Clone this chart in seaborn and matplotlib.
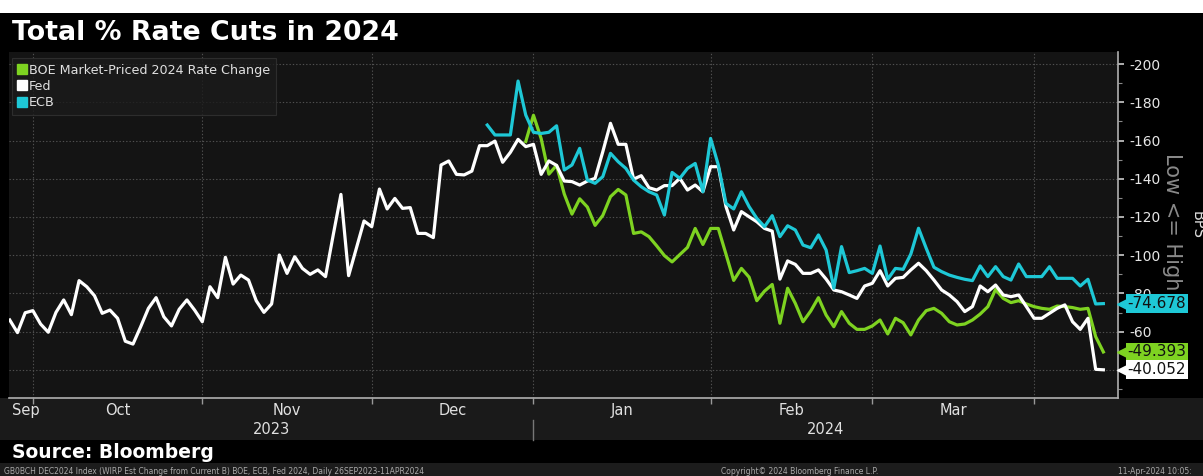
import numpy as np
import pandas as pd
import matplotlib
matplotlib.use("Agg")
import matplotlib.pyplot as plt
import matplotlib.transforms as mtransforms
from matplotlib.lines import Line2D
from matplotlib.patches import Rectangle
from matplotlib.ticker import MultipleLocator
import seaborn as sns

# ---------------- data (bps, daily business days) ----------------
dates = pd.bdate_range("2023-09-26", "2024-04-11")

fed = [-66.1, -59.5, -69.9, -71.0, -64.0, -59.7, -70.1, -76.6, -68.9, -86.7,
       -83.5, -78.8, -69.6, -71.3, -67.0, -55.0, -53.5, -62.6, -72.2, -77.8,
       -67.8, -63.0, -71.7, -76.6, -71.3, -65.2, -83.5, -77.8, -98.9, -84.9,
       -89.6, -87.0, -76.2, -70.1, -74.5, -100.1, -90.5, -99.2, -93.1, -90.0,
       -92.3, -88.8, -110.6, -131.8, -89.3, -103.6, -117.9, -114.9, -134.6, -124.2,
       -129.7, -124.5, -124.9, -111.4, -111.4, -109.2, -147.2, -149.3, -142.3, -142.0,
       -144.0, -157.3, -157.3, -159.7, -148.6, -153.8, -160.6, -156.8, -158.0, -142.3,
       -149.3, -147.0, -138.8, -138.5, -136.7, -138.8, -140.2, -154.1, -169.0, -158.0,
       -158.0, -139.8, -141.6, -135.3, -134.1, -136.4, -136.4, -140.2, -134.1, -136.7,
       -133.2, -146.3, -146.3, -125.4, -113.2, -122.8, -120.1, -117.5, -114.0, -112.6,
       -87.5, -97.0, -95.2, -90.5, -90.5, -92.3, -87.5, -81.8, -80.9, -79.2,
       -77.4, -83.9, -85.3, -91.9, -83.9, -87.9, -88.4, -92.3, -95.8, -91.9,
       -87.0, -81.8, -79.2, -75.7, -70.5, -73.1, -83.9, -80.9, -84.4, -79.2,
       -78.3, -79.2, -73.1, -67.0, -67.0, -69.6, -72.2, -74.0, -65.2, -61.2,
       -67.0, -40.3, -40.052]

ecb_start = "2023-12-21"
ecb = [-168.1, -162.9, -162.9, -162.9, -191.1, -173.3, -164.3, -163.7, -164.3, -167.7,
       -144.6, -147.2, -155.9, -139.3, -137.6, -141.1, -153.3, -148.9, -145.4, -139.3,
       -135.8, -133.2, -131.5, -121.0, -143.3, -140.2, -145.4, -148.0, -133.2, -161.1,
       -147.2, -127.1, -124.2, -133.2, -125.4, -119.3, -114.9, -120.7, -109.7, -115.4,
       -113.2, -105.3, -103.9, -110.6, -102.7, -82.7, -104.5, -90.9, -91.9, -93.1,
       -90.5, -104.8, -87.4, -93.1, -92.6, -100.6, -114.1, -103.6, -93.7, -91.4,
       -89.6, -88.4, -87.4, -86.7, -94.4, -88.8, -94.0, -88.8, -87.0, -95.4,
       -88.8, -88.8, -88.8, -94.0, -87.9, -87.9, -87.9, -83.9, -87.4, -74.5,
       -74.678]

boe_start = "2023-12-28"
boe = [-159.5, -173.2, -161.0, -142.4, -147.0, -132.0, -121.5, -129.5, -125.2, -115.6,
       -120.8, -130.6, -134.4, -131.5, -111.4, -112.2, -109.7, -104.9, -99.8, -96.5,
       -100.3, -104.1, -114.0, -105.6, -114.0, -114.0, -100.5, -86.8, -93.1, -88.5,
       -76.2, -81.2, -84.7, -64.4, -82.7, -74.8, -65.2, -70.8, -77.8, -68.7,
       -62.6, -70.5, -64.4, -61.2, -61.2, -63.0, -66.1, -58.8, -67.0, -64.7,
       -58.3, -66.1, -71.0, -72.2, -69.6, -65.2, -63.5, -64.0, -66.1, -69.2,
       -73.1, -82.1, -77.4, -75.2, -76.2, -74.5, -73.1, -72.2, -71.7, -73.4,
       -73.1, -72.6, -71.7, -72.2, -57.4, -49.393]

series_names = ["BOE Market-Priced 2024 Rate Change", "Fed", "ECB"]
colors = {"BOE Market-Priced 2024 Rate Change": "#7ed321", "Fed": "#ffffff", "ECB": "#1ec8d6"}
last_labels = {"ECB": "-74.678", "BOE Market-Priced 2024 Rate Change": "-49.393", "Fed": "-40.052"}
month_labels = ["Sep", "Oct", "Nov", "Dec", "Jan", "Feb", "Mar"]
year_labels = ["2023", "2024"]
y_ticks = [-200, -180, -160, -140, -120, -100, -80, -60, -40]

# ---------------- build long-form frame ----------------
pos_of = {d: i for i, d in enumerate(dates)}
frames = []
for name, vals, start in [("Fed", fed, dates[0]),
                          ("ECB", ecb, pd.Timestamp(ecb_start)),
                          ("BOE Market-Priced 2024 Rate Change", boe, pd.Timestamp(boe_start))]:
    i0 = pos_of[pd.Timestamp(start)]
    d = dates[i0:i0 + len(vals)]
    frames.append(pd.DataFrame({"date": d, "pos": [pos_of[x] for x in d],
                                "value": vals, "series": name}))
df = pd.concat(frames, ignore_index=True)

# month boundaries: last business day of each month
month_end_pos = []
month_mid_pos = []
periods = pd.Series(dates).dt.to_period("M")
for p in periods.unique():
    idx = np.where(periods == p)[0]
    if idx[-1] < len(dates) - 1:
        month_end_pos.append(idx[-1])
xmax = 143.9
bounds = [0] + month_end_pos
for a, b in zip(bounds[:-1], bounds[1:]):
    month_mid_pos.append((a + b) / 2)
month_mid_pos[0] = 2.1
year_bound = month_end_pos[3]
year_mid_pos = [year_bound / 2, (year_bound + xmax) / 2]

# ---------------- figure ----------------
W, H = 1203, 476
fig = plt.figure(figsize=(W / 100, H / 100), dpi=100, facecolor="black")

def band(y0, y1, color, x0=0, x1=W):
    fig.patches.append(Rectangle((x0 / W, 1 - y1 / H), (x1 - x0) / W, (y1 - y0) / H,
                                 transform=fig.transFigure, facecolor=color,
                                 edgecolor="none", zorder=-10))

band(0, 13, "white")
band(398, 440, "#1a1a1a")
band(440, 463, "black")
band(463, 476, "#1c1c1c")

ax_l, ax_r, ax_t, ax_b = 9, 1118, 52, 398
ax = fig.add_axes([ax_l / W, 1 - ax_b / H, (ax_r - ax_l) / W, (ax_b - ax_t) / H])
ax.set_facecolor("#141414")

sns.lineplot(data=df, x="pos", y="value", hue="series", hue_order=series_names,
             palette=colors, estimator=None, sort=False, linewidth=2.3,
             legend=False, ax=ax)

ax.set_xlim(-0.1, xmax)
ax.set_ylim(-25.3, -206.3)
ax.set_xlabel("")
ax.set_ylabel("")

# y axis on the right (the -40 label sits under the Fed tag in the reference)
ax.yaxis.tick_right()
ax.set_yticks(y_ticks)
ax.set_yticklabels([f"{v}" if v != -40 else "" for v in y_ticks])
ax.yaxis.set_minor_locator(MultipleLocator(10))
ax.tick_params(axis="y", which="major", length=4, width=1.2, color="#cccccc",
               labelcolor="#e6e6e6", labelsize=10, pad=4)
ax.tick_params(axis="y", which="minor", length=3, width=0.8, color="#888888")

ax.set_xticks(month_end_pos)
ax.set_xticklabels([])
ax.tick_params(axis="x", which="major", length=4, width=1, color="#999999")

ax.grid(True, which="major", axis="both", color="#505050",
        linestyle=(0, (1.2, 1.8)), linewidth=0.8)
ax.set_axisbelow(True)

for s in ["left", "top"]:
    ax.spines[s].set_visible(False)
for s in ["right", "bottom"]:
    ax.spines[s].set_color("#b0b0b0")
    ax.spines[s].set_linewidth(1.2)

# month and year labels
trans = mtransforms.blended_transform_factory(ax.transData, ax.transAxes)
for xm, lab in zip(month_mid_pos, month_labels):
    ax.text(xm, -0.035, lab, transform=trans, ha="center", va="center",
            color="#e0e0e0", fontsize=10.5)
for xm, lab in zip(year_mid_pos, year_labels):
    ax.text(xm, -0.092, lab, transform=trans, ha="center", va="center",
            color="#e0e0e0", fontsize=10.5)
ax.add_line(Line2D([year_bound, year_bound], [-0.065, -0.122], transform=trans,
                   color="#777777", linewidth=1, clip_on=False))

# legend
handles = [Line2D([], [], marker="s", linestyle="none", markersize=7,
                  markerfacecolor=colors[n], markeredgecolor=colors[n]) for n in series_names]
leg = ax.legend(handles, series_names, loc="upper left", bbox_to_anchor=(0.0, 0.99),
                frameon=True, fancybox=False, facecolor="#1b1b1b", edgecolor="#333333",
                fontsize=9.2, labelcolor="#e0e0e0", handlelength=0.7, handletextpad=0.2,
                borderpad=0.45, labelspacing=0.25, borderaxespad=0.2)
leg.get_frame().set_linewidth(0.8)

# last-value tags on the right axis
ytrans = mtransforms.blended_transform_factory(ax.transAxes, ax.transData)
last_vals = {"ECB": ecb[-1], "BOE Market-Priced 2024 Rate Change": boe[-1], "Fed": fed[-1]}
for name in ["ECB", "BOE Market-Priced 2024 Rate Change", "Fed"]:
    v = last_vals[name]
    ax.text(1.0085, v, last_labels[name], transform=ytrans, ha="left", va="center",
            fontsize=11, color="#111111", clip_on=False, zorder=10,
            bbox=dict(boxstyle="square,pad=0.12", facecolor=colors[name], edgecolor="none"))
    ax.plot([1.0035], [v], marker="<", markersize=7, color=colors[name],
            transform=ytrans, clip_on=False, zorder=9)

# side labels
fig.text(1172 / W, 1 - 222 / H, "Low <= High", rotation=-90, ha="center", va="center",
         color="#8a8a8a", fontsize=15)
fig.text(1197 / W, 1 - 225 / H, "BPS", rotation=-90, ha="center", va="center",
         color="#dddddd", fontsize=10.5)

# title and footers
fig.text(12 / W, 1 - 33 / H, "Total % Rate Cuts in 2024", ha="left", va="center",
         color="white", fontsize=19.3, fontweight="bold")
fig.text(12 / W, 1 - 452 / H, "Source: Bloomberg", ha="left", va="center",
         color="white", fontsize=13.5, fontweight="bold")
fig.text(4 / W, 1 - 471 / H,
         "GB0BCH DEC2024 Index (WIRP Est Change from Current B) BOE, ECB, Fed 2024, Daily 26SEP2023-11APR2024",
         ha="left", va="center", color="#aaaaaa", fontsize=5.5)
fig.text(800 / W, 1 - 471 / H, "Copyright\u00a9 2024 Bloomberg Finance L.P.",
         ha="center", va="center", color="#aaaaaa", fontsize=5.5)
fig.text(1118 / W, 1 - 471 / H, "11-Apr-2024 10:05:", ha="left", va="center",
         color="#aaaaaa", fontsize=5.5)

fig.savefig("out.png", dpi=100, facecolor=fig.get_facecolor())
